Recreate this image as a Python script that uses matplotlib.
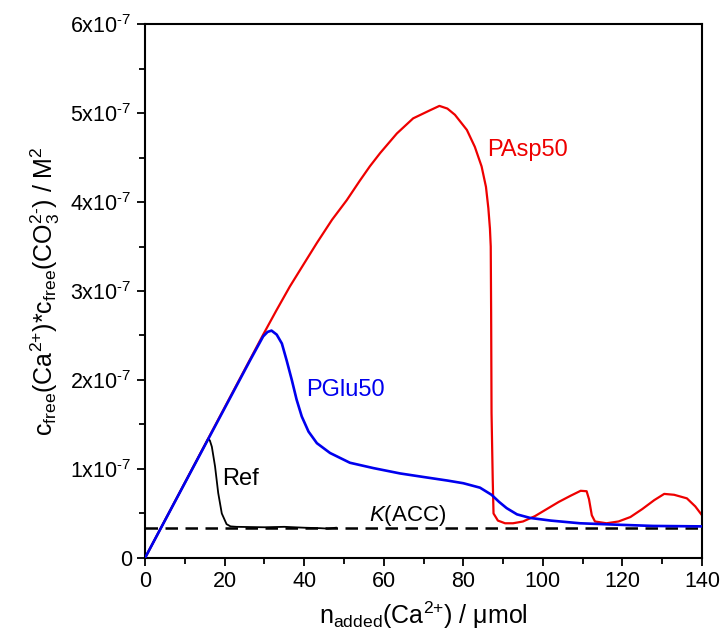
import matplotlib
matplotlib.use('Agg')
import matplotlib.pyplot as plt
import matplotlib.ticker as ticker
import numpy as np

plt.rcParams['font.family'] = ['Liberation Sans', 'DejaVu Sans']
plt.rcParams['mathtext.fontset'] = 'custom'
plt.rcParams['mathtext.rm'] = 'Liberation Sans'
plt.rcParams['mathtext.it'] = 'Liberation Sans:italic'

# ion activity product vs. added calcium, in units of 1e-7 M^2
ref_n = [0, 15.9, 16.3, 16.8, 17.6, 18.4, 19.3, 20.5, 21.5, 23, 30, 35, 40, 44, 46, 48]
ref_p = [0, 1.34, 1.32, 1.25, 1.03, 0.73, 0.50, 0.38, 0.355, 0.35, 0.345, 0.35, 0.34,
         0.335, 0.33, 0.34]

pglu_n = [0, 26.4, 29.7, 30.8, 31.8, 33.1, 34.4, 35.6, 36.9, 38.1, 39.4, 41.1, 43.2, 46.5,
          51.5, 57.4, 64.1, 70, 76, 80, 84.2, 87.1, 89, 90.9, 93.5, 96.8, 102, 109.3, 118,
          127.7, 140]
pglu_p = [0, 2.22, 2.49, 2.54, 2.555, 2.51, 2.41, 2.22, 2.00, 1.78, 1.59, 1.42, 1.29, 1.18,
          1.07, 1.01, 0.95, 0.91, 0.87, 0.84, 0.79, 0.71, 0.63, 0.56, 0.49, 0.45, 0.42,
          0.39, 0.375, 0.36, 0.355]

pasp_n = [0, 29.7, 33, 36.4, 40, 43.2, 47, 50.7, 54, 56.5, 59.1, 63.3, 67.4, 71.6, 74,
          76, 77.9, 80.9, 82.9, 84.6, 85.7, 86.3, 86.7, 86.9, 87.0, 87.1, 87.4, 87.6, 88.7,
          90.5, 92.5, 95, 98, 101, 104, 107, 109.5, 111.0, 111.6, 112.3, 113.1, 116, 119,
          122, 125, 128, 130.5, 133, 136.2, 138.3, 140]
pasp_p = [0, 2.51, 2.78, 3.05, 3.31, 3.54, 3.80, 4.02, 4.24, 4.40, 4.55, 4.77, 4.94, 5.03,
          5.08, 5.05, 4.98, 4.81, 4.62, 4.40, 4.17, 3.93, 3.70, 3.50, 2.75, 1.63, 0.88,
          0.50, 0.42, 0.39, 0.39, 0.41, 0.47, 0.55, 0.63, 0.70, 0.755, 0.75, 0.66, 0.48,
          0.41, 0.39, 0.41, 0.46, 0.55, 0.65, 0.72, 0.71, 0.67, 0.58, 0.48]

k_acc = 0.34  # solubility product of ACC, 1e-7 M^2

scale = 1e-7

fig = plt.figure(figsize=(7.2, 6.39), dpi=100)
ax = fig.add_axes([0.2014, 0.1268, 0.7736, 0.8356])

ax.axhline(k_acc * scale, color='black', lw=1.8, ls=(0, (5, 3)), zorder=1)
ax.plot(pasp_n, np.array(pasp_p) * scale, color='#ee0000', lw=1.6, zorder=2)
ax.plot(ref_n, np.array(ref_p) * scale, color='black', lw=1.3, zorder=2)
ax.plot(pglu_n, np.array(pglu_p) * scale, color='#0000ee', lw=1.9, zorder=3)

ax.text(86, 4.58 * scale, 'PAsp50', color='#ee0000', fontsize=17, va='center')
ax.text(40.4, 1.89 * scale, 'PGlu50', color='#0000ee', fontsize=17, va='center')
ax.text(19.3, 0.89 * scale, 'Ref', color='black', fontsize=17, va='center')
ax.text(56.2, 0.41 * scale, r'$\mathit{K}\mathregular{(ACC)}$', color='black',
        fontsize=16, va='baseline')

ax.set_xlim(0, 140)
ax.set_ylim(0, 6e-7)
ax.xaxis.set_major_locator(ticker.MultipleLocator(20))
ax.xaxis.set_minor_locator(ticker.MultipleLocator(10))
ax.yaxis.set_major_locator(ticker.MultipleLocator(1e-7))
ax.yaxis.set_minor_locator(ticker.MultipleLocator(0.5e-7))


def sci_fmt(v, pos):
    k = int(round(v / 1e-7))
    if k == 0:
        return '0'
    return r'$\mathregular{%dx10^{\text{-}7}}$' % k


ax.yaxis.set_major_formatter(ticker.FuncFormatter(sci_fmt))
ax.tick_params(which='both', direction='out', width=1.3, labelsize=15.5,
               top=False, right=False)
ax.tick_params(which='major', length=6)
ax.tick_params(which='minor', length=4)
for sp in ax.spines.values():
    sp.set_linewidth(1.5)

ax.set_xlabel(r'$\mathregular{n_{added}(Ca^{2{+}})\ /\ \mu mol}$', fontsize=18, labelpad=5)
ax.set_ylabel(r'$\mathregular{c_{free}(Ca^{2{+}}){*}c_{free}(CO_3^{2\text{-}})\ /\ M^2}$',
              fontsize=18, labelpad=6)

plt.savefig('out.png', dpi=100)
